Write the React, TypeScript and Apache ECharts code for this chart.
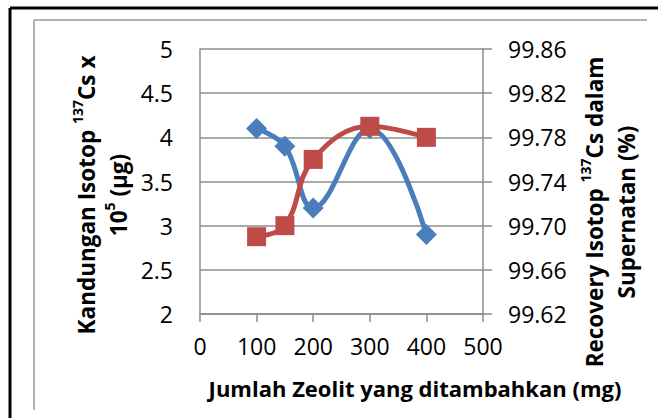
import React, { useEffect, useRef } from "react";
import * as echarts from "echarts";

const xValues = [100, 150, 200, 300, 400];
const kandungan = [4.1, 3.9, 3.2, 4.1, 2.9];
const recovery = [99.69, 99.7, 99.76, 99.79, 99.78];
const leftTicks = [2, 2.5, 3, 3.5, 4, 4.5, 5];
const rightTicks = ["99.62", "99.66", "99.70", "99.74", "99.78", "99.82", "99.86"];

const FONT = "'Open Sans', sans-serif";
const BLUE = "#4a7ebb";
const RED = "#be4b48";
const GRID = "#8c8c8c";

export default function App() {
  const ref = useRef<HTMLDivElement>(null);
  useEffect(() => {
    if (!ref.current) return;
    const chart = echarts.init(ref.current, null, { renderer: "svg" });
    const titleRich = {
      b: { fontFamily: FONT, fontWeight: "bold", fontSize: 22.5, fill: "#000", lineHeight: 32 },
      s: { fontFamily: FONT, fontWeight: "bold", fontSize: 14, fill: "#000", verticalAlign: "top", lineHeight: 32 },
    };
    chart.setOption({
      animation: false,
      backgroundColor: "#fff",
      grid: { left: 200, top: 49, right: 175, bottom: 104, containLabel: false },
      xAxis: {
        type: "value",
        min: 0,
        max: 500,
        interval: 100,
        axisLine: { show: true, lineStyle: { color: GRID, width: 1.5 } },
        axisTick: { show: true, length: 8, lineStyle: { color: GRID, width: 1.5 } },
        splitLine: { show: false },
        axisLabel: { fontFamily: FONT, fontSize: 23, color: "#000", margin: 20 },
      },
      yAxis: [
        {
          type: "value",
          min: 2,
          max: 5,
          interval: 0.5,
          position: "left",
          axisLine: { show: true, lineStyle: { color: GRID, width: 1.5 } },
          axisTick: { show: false },
          splitLine: { show: true, lineStyle: { color: GRID, width: 1.5 } },
          axisLabel: {
            fontFamily: FONT,
            fontSize: 23,
            color: "#000",
            margin: 27,
            formatter: (v: number) => {
              const t = leftTicks.find((x) => Math.abs(x - v) < 1e-6);
              return t !== undefined ? String(t) : "";
            },
          },
        },
        {
          type: "value",
          min: 99.62,
          max: 99.86,
          interval: 0.04,
          position: "right",
          axisLine: { show: true, lineStyle: { color: GRID, width: 1.5 } },
          axisTick: { show: true, length: 9, lineStyle: { color: GRID, width: 1.5 } },
          splitLine: { show: false },
          axisLabel: {
            fontFamily: FONT,
            fontSize: 23,
            color: "#000",
            margin: 25,
            formatter: (v: number) => {
              const idx = Math.round((v - 99.62) / 0.04);
              return rightTicks[idx] ?? "";
            },
          },
        },
      ],
      series: [
        {
          type: "line",
          yAxisIndex: 0,
          data: xValues.map((x, i) => [x, kandungan[i]]),
          smooth: 0.4,
          symbol: "diamond",
          symbolSize: 21,
          lineStyle: { color: BLUE, width: 5 },
          itemStyle: { color: BLUE },
          z: 2,
        },
        {
          type: "line",
          yAxisIndex: 1,
          data: xValues.map((x, i) => [x, recovery[i]]),
          smooth: 0.4,
          symbol: "rect",
          symbolSize: 19,
          lineStyle: { color: RED, width: 5 },
          itemStyle: { color: RED },
          z: 3,
        },
      ],
      graphic: [
        { type: "line", shape: { x1: 10, y1: 8, x2: 658, y2: 8 }, style: { stroke: "#000", lineWidth: 3 } },
        { type: "line", shape: { x1: 10, y1: 8, x2: 10, y2: 418 }, style: { stroke: "#000", lineWidth: 3 } },
        { type: "line", shape: { x1: 34, y1: 20, x2: 647, y2: 20 }, style: { stroke: "#999", lineWidth: 1.5 } },
        { type: "line", shape: { x1: 34, y1: 20, x2: 34, y2: 410 }, style: { stroke: "#999", lineWidth: 1.5 } },
        {
          type: "text",
          x: 102,
          y: 195,
          rotation: Math.PI / 2,
          style: {
            text: "{b|Kandungan Isotop }{s|137}{b|Cs x}\n{b|10}{s|5}{b| (µg)}",
            rich: titleRich,
            align: "center",
            verticalAlign: "middle",
          },
        },
        {
          type: "text",
          x: 610,
          y: 212,
          rotation: Math.PI / 2,
          style: {
            text: "{b|Recovery Isotop }{s|137}{b|Cs dalam}\n{b|Supernatan (%)}",
            rich: titleRich,
            align: "center",
            verticalAlign: "middle",
          },
        },
        {
          type: "text",
          x: 415,
          y: 388,
          style: {
            text: "Jumlah Zeolit yang ditambahkan (mg)",
            fontFamily: FONT,
            fontWeight: "bold",
            fontSize: 22,
            fill: "#000",
            align: "center",
            verticalAlign: "middle",
          },
        },
      ],
    });
    return () => chart.dispose();
  }, []);
  return <div ref={ref} style={{ width: 658, height: 418, position: "absolute", left: 0, top: 0 }} />;
}
